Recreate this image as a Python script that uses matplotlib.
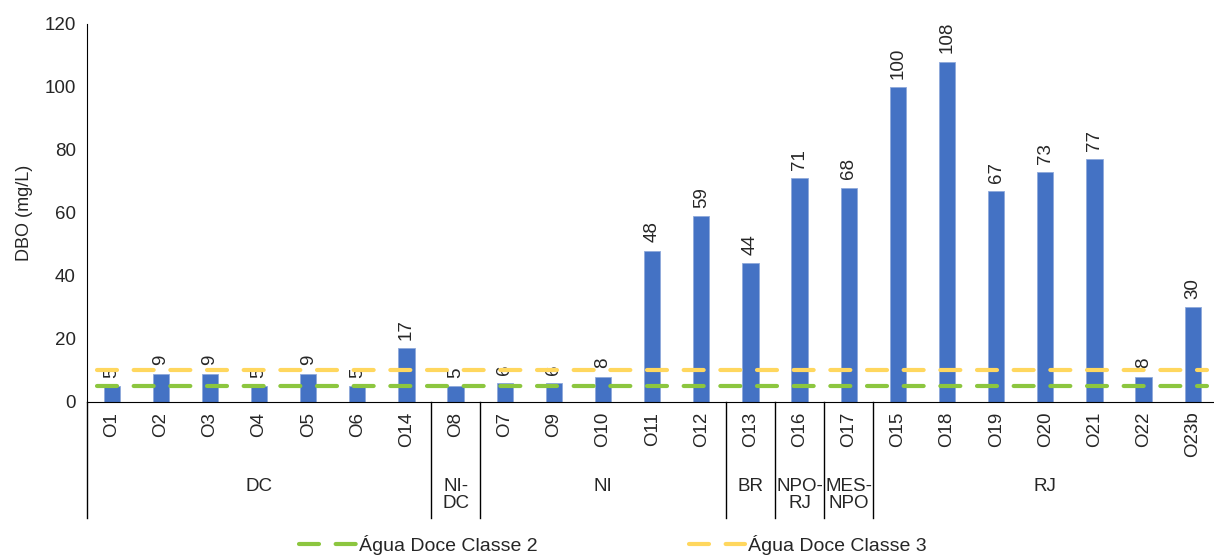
import matplotlib.pyplot as plt
import matplotlib.transforms as mtransforms

plt.rcParams["font.family"] = ["Liberation Sans", "DejaVu Sans"]

sites = ["O1", "O2", "O3", "O4", "O5", "O6", "O14", "O8", "O7", "O9", "O10",
         "O11", "O12", "O13", "O16", "O17", "O15", "O18", "O19", "O20", "O21",
         "O22", "O23b"]
dbo = [5, 9, 9, 5, 9, 5, 17, 5, 6, 6, 8, 48, 59, 44, 71, 68, 100, 108, 67,
       73, 77, 8, 30]
groups = ["DC", "NI-\nDC", "NI", "BR", "NPO-\nRJ", "MES-\nNPO", "RJ"]
group_sizes = [7, 1, 5, 1, 1, 1, 7]
classe2 = 5
classe3 = 10

txt = "#262626"
fs = 13.5

fig = plt.figure(figsize=(12.14, 5.56), dpi=100)
ax = fig.add_axes([0.0717, 0.277, 0.931, 0.680])

x = list(range(len(sites)))
ax.bar(x, dbo, width=0.33, color="#4472C4", edgecolor="#8EA9DB", linewidth=0.6, zorder=2)
for xi, v in zip(x, dbo):
    ax.annotate(str(v), (xi, v), xytext=(0, 6), textcoords="offset points",
                rotation=90, ha="center", va="bottom", fontsize=fs, color=txt)

line_kw = dict(lw=3, dashes=(4.8, 4.0), dash_capstyle="round", zorder=3)
ax.plot([-0.3, len(sites) - 0.7], [classe2, classe2], color="#8CC63F",
        label="Água Doce Classe 2", **line_kw)
ax.plot([-0.3, len(sites) - 0.7], [classe3, classe3], color="#FFD75E",
        label="Água Doce Classe 3", **line_kw)

ax.set_xlim(-0.5, len(sites) - 0.5)
ax.set_ylim(0, 120)
ax.set_yticks(range(0, 121, 20))
ax.set_xticks(x)
ax.set_xticklabels(sites, rotation=90)
ax.tick_params(axis="both", length=0, labelsize=fs, colors=txt)
ax.tick_params(axis="x", pad=7)
ax.tick_params(axis="y", pad=8)
for s in ["top", "right"]:
    ax.spines[s].set_visible(False)
ax.spines["left"].set_color("black")
ax.spines["bottom"].set_color("black")
ax.set_ylabel("DBO (mg/L)", fontsize=13, color=txt, labelpad=8)

# group brackets under the axis
trans = mtransforms.blended_transform_factory(ax.transData, ax.transAxes)
depth = -0.307
ax.plot([-0.5, -0.5], [depth, 0], color="black", lw=1, transform=trans, clip_on=False)
start = 0
for name, n in zip(groups, group_sizes):
    end = start + n
    if end < len(sites):
        ax.plot([end - 0.5, end - 0.5], [depth, 0], color="black", lw=1,
                transform=trans, clip_on=False)
    ax.text((start + end - 1) / 2, -0.2, name, transform=trans, ha="center",
            va="top", fontsize=fs, color=txt, linespacing=1.05)
    start = end

leg = fig.legend(loc="center", bbox_to_anchor=(0.505, 0.02), ncol=2, frameon=False,
                 fontsize=14, handlelength=2.9, handletextpad=0.15, columnspacing=7.8)
for t in leg.get_texts():
    t.set_color(txt)

fig.savefig("out.png", dpi=100)
